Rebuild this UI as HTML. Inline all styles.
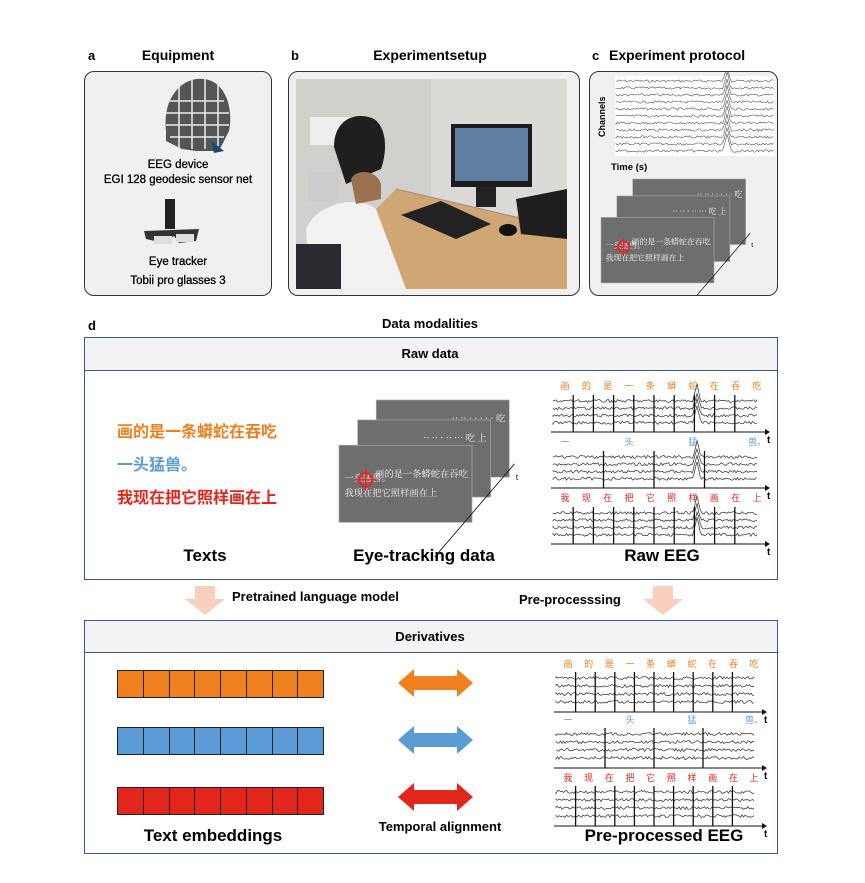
<!DOCTYPE html>
<html><head><meta charset="utf-8"><style>
body{margin:0;width:865px;height:883px;background:#fff;position:relative;overflow:hidden;font-family:"Liberation Sans","Noto Sans CJK SC",sans-serif}
.t{position:absolute;font-weight:bold;color:#000;white-space:nowrap}
.c{transform:translateX(-50%)}
.box{position:absolute;border:1px solid #333;background:#f0f0f0;border-radius:10px}
.sq{position:absolute;border:1px solid #3a5a8a;background:#fff}
.hdr{position:absolute;background:#f3f3f6;border-bottom:1px solid #3a5a8a;left:0;right:0;top:0}
.bar{position:absolute;display:flex;border:1px solid #222}
.bar div{flex:1;border-right:1px solid #222}
.bar div:last-child{border-right:none}
.zh{font-family:"Noto Sans CJK SC","WenQuanYi Zen Hei",sans-serif}
</style></head><body>
<div class="t" style="left:88px;top:48px;font-size:13px">a</div>
<div class="t c" style="left:178px;top:47px;font-size:14px">Equipment</div>
<div class="t" style="left:291px;top:48px;font-size:13px">b</div>
<div class="t c" style="left:430px;top:47px;font-size:14px">Experimentsetup</div>
<div class="t" style="left:592px;top:48px;font-size:13px">c</div>
<div class="t" style="left:609px;top:47px;font-size:14px">Experiment protocol</div>

<div class="box" style="left:84px;top:71px;width:186px;height:223px"></div>
<svg style="position:absolute;left:84px;top:71px" width="187" height="224">
<path d="M82 60 C78 25 100 5 120 8 C140 10 150 35 145 60 L140 70 L135 80 L112 80 L98 78 L82 70 Z" fill="#555"/>
<g stroke="#e8eef5" stroke-width="1.5" fill="none"><path d="M85 30 L140 30 M82 42 L145 42 M82 54 L145 54 M86 66 L140 66 M95 12 L95 78 M108 8 L108 78 M121 8 L121 78 M134 12 L134 75"/></g>
<path d="M127 70 L140 80 L130 82 Z" fill="#1a4a6a"/>
<rect x="81" y="128" width="10" height="30" fill="#222"/>
<path d="M60 160 L115 158 L112 170 L95 172 L90 165 L80 172 L62 168 Z" fill="#333"/>
<rect x="70" y="165" width="18" height="8" fill="#ddd"/><rect x="92" y="163" width="18" height="8" fill="#ddd"/>
</svg>
<div class="t c" style="left:178px;top:159px;font-size:11.5px;font-weight:normal;-webkit-text-stroke:.3px #000">EEG device</div>
<div class="t c" style="left:178px;top:174px;font-size:11.5px;font-weight:normal;-webkit-text-stroke:.3px #000">EGI 128 geodesic sensor net</div>
<div class="t c" style="left:178px;top:256px;font-size:11.5px;font-weight:normal;-webkit-text-stroke:.3px #000">Eye tracker</div>
<div class="t c" style="left:178px;top:275px;font-size:11.5px;font-weight:normal;-webkit-text-stroke:.3px #000">Tobii pro glasses 3</div>

<div class="box" style="left:288px;top:71px;width:290px;height:223px"></div>
<svg style="position:absolute;left:296px;top:79px" width="271" height="210">
<rect width="271" height="210" fill="#d2d0cc"/>
<rect x="135" y="0" width="136" height="210" fill="#dcdad6"/>
<path d="M0 210 L100 110 L271 150 L271 210 Z" fill="#cfa774"/>
<path d="M100 110 L271 150" stroke="#a88" stroke-width="1"/>
<rect x="155" y="45" width="81" height="63" fill="#1c1c1c"/><rect x="159" y="49" width="73" height="53" fill="#5f7fa0"/>
<rect x="180" y="108" width="20" height="20" fill="#222"/>
<path d="M105 136 L145 122 L195 145 L160 160 Z" fill="#222"/>
<rect x="12" y="93" width="30" height="30" fill="#ccc"/>
<rect x="14" y="38" width="55" height="28" fill="#eee"/><rect x="40" y="55" width="25" height="40" fill="#ccc"/>
<path d="M220 120 L271 110 L271 160 L225 155 Z" fill="#1e1e1e"/>
<ellipse cx="212" cy="151" rx="9" ry="6" fill="#111"/>
<path d="M38 68 C38 40 60 32 78 40 C90 48 92 70 85 90 L50 105 Z" fill="#1f1f1f"/>
<path d="M15 210 L10 150 C20 125 60 115 80 130 L110 210 Z" fill="#f2f2f2"/>
<path d="M55 100 C60 90 80 90 85 105 L85 120 L60 125 Z" fill="#9a7050"/>
<rect x="-5" y="165" width="50" height="45" fill="#2a2a30"/>
</svg>

<div class="box" style="left:589px;top:71px;width:187px;height:223px"></div>
<svg id="cs" style="position:absolute;left:589px;top:71px" width="188" height="224"></svg>
<div class="t" style="left:597px;top:92px;font-size:9px;transform-origin:0 0;transform:rotate(-90deg) translate(-45px,0)">Channels</div>
<div class="t" style="left:611px;top:162px;font-size:9.5px">Time (s)</div>

<div class="t" style="left:88px;top:318px;font-size:13px">d</div>
<div class="t c" style="left:430px;top:316px;font-size:13px">Data modalities</div>

<div class="sq" style="left:84px;top:337px;width:692px;height:241px"><div class="hdr" style="height:32px"></div></div>
<div class="t c" style="left:430px;top:346px;font-size:13px">Raw data</div>
<div class="t zh" style="left:117px;top:418px;font-size:16px;color:#f07f1e">画的是一条蟒蛇在吞吃</div>
<div class="t zh" style="left:117px;top:451px;font-size:16px;color:#5b9bd5">一头猛兽。</div>
<div class="t zh" style="left:117px;top:484px;font-size:16px;color:#e3261c">我现在把它照样画在上</div>
<div class="t c" style="left:205px;top:546px;font-size:17px">Texts</div>
<div class="t c" style="left:424px;top:546px;font-size:17px">Eye-tracking data</div>
<div class="t c" style="left:662px;top:546px;font-size:17px">Raw EEG</div>

<div class="t" style="left:232px;top:589px;font-size:13px">Pretrained language model</div>
<div class="t" style="left:519px;top:592px;font-size:13px">Pre-processsing</div>

<div class="sq" style="left:84px;top:620px;width:692px;height:232px"><div class="hdr" style="height:31px"></div></div>
<div class="t c" style="left:430px;top:629px;font-size:13px">Derivatives</div>
<div class="bar" style="left:117px;top:670px;width:205px;height:26px;background:#f07f1e"><div></div><div></div><div></div><div></div><div></div><div></div><div></div><div></div></div>
<div class="bar" style="left:117px;top:727px;width:205px;height:26px;background:#5b9bd5"><div></div><div></div><div></div><div></div><div></div><div></div><div></div><div></div></div>
<div class="bar" style="left:117px;top:787px;width:205px;height:26px;background:#e3261c"><div></div><div></div><div></div><div></div><div></div><div></div><div></div><div></div></div>
<div class="t c" style="left:213px;top:826px;font-size:17px">Text embeddings</div>
<div class="t c" style="left:440px;top:819px;font-size:13px">Temporal alignment</div>
<div class="t c" style="left:664px;top:826px;font-size:17px">Pre-processed EEG</div>

<svg id="main" style="position:absolute;left:0;top:0" width="865" height="883"></svg>

<script>
var NS="http://www.w3.org/2000/svg";
function el(p,n,a,txt){var e=document.createElementNS(NS,n);for(var k in a)e.setAttribute(k,a[k]);if(txt)e.textContent=txt;p.appendChild(e);return e;}
var seed=7;function r(){seed=(seed*9301+49297)%233280;return seed/233280;}
function trace(p,x0,x1,y,amp,spk,col,w){var d="M"+x0+" "+y;for(var x=x0;x<=x1;x+=1.5){var v=(r()-.5)*amp;if(spk&&Math.abs(x-spk)<4)v-=(4-Math.abs(x-spk))*4;d+=" L"+x.toFixed(1)+" "+(y+v).toFixed(1);}el(p,"path",{d:d,stroke:col||"#444","stroke-width":w||.7,fill:"none"});}
var M=document.getElementById("main");
var C=document.getElementById("cs");
el(C,"rect",{x:26,y:5,width:160,height:80,fill:"#fff"});
for(var i=0;i<11;i++)trace(C,27,185,10+i*7,2.5,138,"#555",.6);
function slides(P,x,y,s){var g=el(P,"g",{transform:"translate("+x+","+y+") scale("+s+")"});
[[28,0],[14,15],[0,34]].forEach(function(o,i){el(g,"rect",{x:o[0],y:o[1],width:100,height:58,fill:"#6e6e6e",stroke:"#aaa","stroke-width":.5});
el(g,"text",{x:o[0]+97,y:o[1]+16+(i==2?8:0),"font-size":7,fill:"#eee","text-anchor":"end","font-family":"Noto Serif CJK SC,serif"},i==0?"·· ·· ·  · · · · 吃":(i==1?"·· ·· · ·· ··· 吃  上":"画的是一条蟒蛇在吞吃"));});
el(g,"text",{x:4,y:61,"font-size":7,fill:"#eee","font-family":"Noto Serif CJK SC,serif"},"一头猛兽。");
el(g,"text",{x:4,y:72,"font-size":7,fill:"#eee","font-family":"Noto Serif CJK SC,serif"},"我现在把它照样画在上");
el(g,"circle",{cx:20,cy:60,r:5,fill:"none",stroke:"#e22","stroke-width":1.5});el(g,"path",{d:"M12 60 L28 60 M20 52 L20 68",stroke:"#e22","stroke-width":1});
el(g,"line",{x1:72,y1:118,x2:132,y2:48,stroke:"#222","stroke-width":.7});el(g,"text",{x:133,y:60,"font-size":6},"t");}
slides(C,12,108,1.13);
slides(M,339,400,1.33);
var cz=["画","的","是","一","条","蟒","蛇","在","吞","吃"],bz=["一","头","猛","兽。"],rz=["我","现","在","把","它","照","样","画","在","上"];
function panel(x0,x1,ly,py,ph,chars,col,spk){var n=chars.length;var w=(x1-x0);
chars.forEach(function(c,i){var cx=x0+12+i*(w-20)/(n-1);el(M,"text",{x:cx,y:ly,"font-size":9,fill:col,"text-anchor":"middle","font-family":"Noto Sans CJK SC,sans-serif"},c);});
for(var j=0;j<4;j++)trace(M,x0,x1-8,py+6+j*(ph-8)/4,3,spk,"#444",.8);
for(var i=1;i<n;i++){var bx=x0+i*(w-10)/n;el(M,"line",{x1:bx,y1:py,x2:bx,y2:py+ph,stroke:"#111","stroke-width":1.3});}
el(M,"line",{x1:x0-2,y1:py+ph,x2:x1,y2:py+ph,stroke:"#111","stroke-width":1});
el(M,"path",{d:"M"+x1+" "+(py+ph-3)+" L"+(x1+5)+" "+(py+ph)+" L"+x1+" "+(py+ph+3)+"Z",fill:"#111"});
el(M,"text",{x:x1+2,y:py+ph+11,"font-size":10,"font-weight":"bold"},"t");}
panel(553,765,389,395,37,cz,"#f07f1e",697);
panel(553,765,445,451,37,bz,"#5b9bd5",697);
panel(553,765,501,507,37,rz,"#e3261c",697);
panel(556,762,667,672,40,cz,"#f07f1e",0);
panel(556,762,723,728,40,bz,"#5b9bd5",0);
panel(556,762,781,786,40,rz,"#e3261c",0);
[205,663].forEach(function(x){el(M,"path",{d:"M"+(x-10)+" 586 L"+(x+10)+" 586 L"+(x+10)+" 599 L"+(x+20)+" 599 L"+x+" 615 L"+(x-20)+" 599 L"+(x-10)+" 599 Z",fill:"#f9cfbd"});});
[[683,"#f07f1e"],[740,"#5b9bd5"],[797,"#e3261c"]].forEach(function(a){var y=a[0];el(M,"path",{d:"M398 "+y+" L414 "+(y-14)+" L414 "+(y-7)+" L457 "+(y-7)+" L457 "+(y-14)+" L473 "+y+" L457 "+(y+14)+" L457 "+(y+7)+" L414 "+(y+7)+" L414 "+(y+14)+" Z",fill:a[1]});});
</script>
</body></html>
